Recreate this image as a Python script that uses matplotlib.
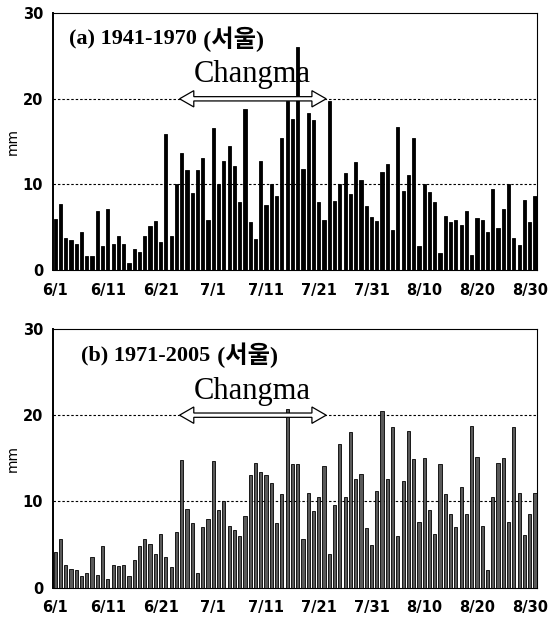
import matplotlib
matplotlib.use("Agg")
import matplotlib.pyplot as plt
from matplotlib.patches import Polygon
import numpy as np

# 6/1 ~ 8/31 daily mean precipitation (mm)
rain_1941_1970 = [
    6.0, 7.7, 3.8, 3.5, 3.1, 4.4, 1.6, 1.7, 6.9, 2.8,
    7.1, 3.0, 4.0, 3.1, 0.8, 2.5, 2.1, 4.0, 5.2, 5.7,
    3.3, 15.9, 4.0, 10.0, 13.7, 11.7, 9.0, 11.7, 13.1, 5.9,
    16.6, 10.0, 12.7, 14.5, 12.2, 7.9, 18.8, 5.6, 3.6, 12.8,
    7.6, 10.0, 8.6, 15.4, 19.7, 17.6, 26.1, 11.8, 18.4, 17.5,
    8.0, 5.8, 19.7, 8.1, 10.0, 11.3, 8.9, 12.6, 10.5, 7.5,
    6.2, 5.7, 11.4, 12.4, 4.7, 16.7, 9.2, 11.1, 15.4, 2.8,
    10.0, 9.1, 7.9, 2.0, 6.3, 5.6, 5.8, 5.3, 6.9, 1.8,
    6.1, 5.8, 4.4, 9.5, 4.9, 7.1, 10.0, 3.8, 2.9, 8.2,
    5.6, 8.6,
]
rain_1971_2005 = [
    4.2, 5.7, 2.6, 2.2, 2.1, 1.4, 1.7, 3.6, 1.5, 4.9,
    1.0, 2.6, 2.5, 2.6, 1.4, 3.2, 4.8, 5.7, 5.1, 3.9,
    6.2, 3.6, 2.4, 6.5, 14.8, 9.1, 7.5, 1.7, 7.1, 8.0,
    14.7, 9.0, 10.0, 7.2, 6.7, 6.0, 8.3, 13.1, 14.5, 13.4,
    13.1, 12.1, 7.5, 10.9, 20.7, 14.3, 14.3, 5.7, 11.0, 8.9,
    10.5, 14.1, 3.9, 9.6, 16.7, 10.5, 18.0, 12.6, 13.2, 6.9,
    5.0, 11.2, 20.5, 12.6, 18.6, 6.0, 12.4, 18.2, 14.9, 7.6,
    15.0, 9.0, 6.2, 14.3, 10.9, 8.6, 7.0, 11.7, 8.6, 18.7,
    15.2, 7.2, 2.1, 10.5, 14.5, 15.0, 7.6, 18.6, 11.0, 6.1,
    8.5, 11.0,
]
tick_days = [0, 10, 20, 30, 40, 50, 60, 70, 80, 90]
tick_labels = ["6/1", "6/11", "6/21", "7/1", "7/11", "7/21", "7/31", "8/10", "8/20", "8/30"]
periods = ["(a) 1941-1970", "(b) 1971-2005"]
station = "(서울)"
# changma period drawn as double arrow (day index from 6/1)
changma_start = 23.6
changma_end = 51.4
changma_level = 20

serif = ["Liberation Serif", "Noto Sans CJK KR"]
narrow = ["Liberation Sans Narrow", "DejaVu Sans"]


def changma_arrow(ax, x0, x1, y, hl=2.7, hh=0.95, sh=0.25):
    pts = [(x0, y), (x0 + hl, y + hh), (x0 + hl, y + sh), (x1 - hl, y + sh),
           (x1 - hl, y + hh), (x1, y), (x1 - hl, y - hh), (x1 - hl, y - sh),
           (x0 + hl, y - sh), (x0 + hl, y - hh)]
    ax.add_patch(Polygon(pts, closed=True, facecolor="white", edgecolor="black",
                         lw=0.9, zorder=5))


def draw_panel(ax, vals, period, face, title_x, text_dy):
    days = np.arange(len(vals))
    ax.bar(days, vals, width=0.6, color=face, edgecolor="black", lw=0.6, zorder=3)
    for g in [10, 20]:
        ax.axhline(g, color="black", lw=0.8, ls=(0, (2.2, 1.8)), zorder=1)
    ax.set_xlim(-0.4, 91.4)
    ax.set_ylim(0, 30)
    ax.set_yticks([0, 10, 20, 30])
    ax.set_xticks(tick_days)
    ax.set_xticklabels(tick_labels)
    for lab in ax.get_xticklabels() + ax.get_yticklabels():
        lab.set_family(narrow)
        lab.set_fontweight("bold")
        lab.set_fontsize(10.5)
    ax.tick_params(axis="x", length=0, pad=9)
    ax.tick_params(axis="y", length=0, pad=7)
    ax.set_ylabel("mm", fontsize=10)
    ax.yaxis.set_label_coords(-0.068, 0.5)
    for s in ax.spines.values():
        s.set_linewidth(0.8)
    ax.spines["left"].set_linewidth(1.4)
    t1 = ax.text(title_x, 26.9, period, family=serif, fontweight="bold", fontsize=16,
                 va="center", ha="left", zorder=6)
    ax.annotate(" " + station, xy=(1, 0.5), xycoords=t1, family=serif,
                fontweight="bold", fontsize=17.5, va="center", ha="left", zorder=6)
    changma_arrow(ax, changma_start, changma_end, changma_level)
    ax.text(37.4, changma_level + text_dy, "Changma",
            family="Liberation Serif", fontsize=22, ha="center", va="baseline", zorder=6)


fig = plt.figure(figsize=(5.52, 6.24), dpi=100)
ax1 = fig.add_axes([0.096, 0.567, 0.877, 0.412])
ax2 = fig.add_axes([0.096, 0.058, 0.877, 0.415])

draw_panel(ax1, rain_1941_1970, periods[0], "black", 2.6, 2.0)
draw_panel(ax2, rain_1971_2005, periods[1], "#5a5a5a", 5.0, 1.9)

fig.savefig("out.png", dpi=100)
